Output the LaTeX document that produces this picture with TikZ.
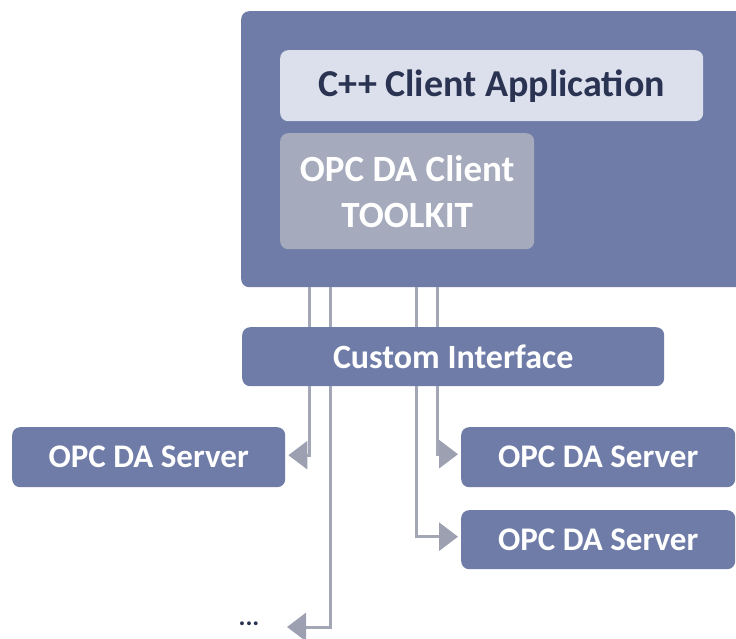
\documentclass[tikz,border=0pt]{standalone}
\usepackage{fontspec}
\setmainfont{Carlito}
\usetikzlibrary{arrows.meta}
\definecolor{boxblue}{HTML}{6F7CA8}
\definecolor{appbg}{HTML}{DCE0EC}
\definecolor{kitbg}{HTML}{A5AABC}
\definecolor{navy}{HTML}{2A3352}
\definecolor{linegray}{HTML}{A3A6B5}
\definecolor{tipgray}{HTML}{9CA0B1}
\tikzset{
  box/.style={rounded corners=8pt, inner sep=0pt, anchor=north west},
  bluebox/.style={box, fill=boxblue, text=white, font=\fontsize{33}{38}\selectfont\bfseries},
  conn/.style={draw=linegray, line width=3pt},
  bigtip/.tip={Triangle[length=19pt,width=28pt,color=tipgray]},
  arr/.style={conn, -bigtip, shorten >=3pt},
}
\begin{document}
\begin{tikzpicture}[x=1pt,y=-1pt]
\useasboundingbox (0,0) rectangle (736,639);
\clip (0,0) rectangle (736,639);
\fill[white] (0,0) rectangle (736,639);
% coordinates for connector x positions
\coordinate (xa) at (309,0);
\coordinate (xb) at (330,0);
\coordinate (xc) at (416,0);
\coordinate (xd) at (437,0);
% boxes
\node[box, fill=boxblue, minimum width=520pt, minimum height=276pt] (client) at (241,11) {};
\node[box, fill=appbg, minimum width=423pt, minimum height=71pt] (app) at (280,50) {};
\node[text=navy, font=\fontsize{38}{44}\selectfont\bfseries] at (app.center) {C++ Client Application};
\node[box, fill=kitbg, minimum width=254pt, minimum height=116pt] (kit) at (280,133) {};
\node[text=white, align=center, font=\fontsize{37}{46}\selectfont\bfseries] at (kit.center) {OPC DA Client\\TOOLKIT};
\node[bluebox, minimum width=422pt, minimum height=59pt] (ci) at (242,327) {};
\node[text=white, font=\fontsize{34}{38}\selectfont\bfseries] at (ci.center) {Custom Interface};
\node[bluebox, minimum width=273pt, minimum height=60pt] (s1) at (12,427) {};
\node[text=white, font=\fontsize{33}{38}\selectfont\bfseries] at (s1.center) {OPC DA Server};
\node[bluebox, minimum width=274pt, minimum height=60pt] (s2) at (461,427) {};
\node[text=white, font=\fontsize{33}{38}\selectfont\bfseries] at (s2.center) {OPC DA Server};
\node[bluebox, minimum width=274pt, minimum height=59pt] (s3) at (461,510) {};
\node[text=white, font=\fontsize{33}{38}\selectfont\bfseries] at (s3.center) {OPC DA Server};
\node[text=navy, font=\fontsize{26}{30}\selectfont\bfseries, inner sep=0pt] (dots) at (249,624) {...};
\coordinate (dotsend) at (284,627);
% connectors between client box and custom interface
\draw[conn] (client.south -| xa) -- (ci.north -| xa);
\draw[conn] (client.south -| xb) -- (ci.north -| xb);
\draw[conn] (client.south -| xc) -- (ci.north -| xc);
\draw[conn] (client.south -| xd) -- (ci.north -| xd);
% connectors to servers
\draw[arr] (ci.south -| xa) |- ([yshift=2pt]s1.east);
\draw[arr] (ci.south -| xd) |- ([yshift=3pt]s2.west);
\draw[arr] (ci.south -| xc) |- ([yshift=3pt]s3.west);
\draw[arr] (ci.south -| xb) |- (dotsend);
\end{tikzpicture}
\end{document}
